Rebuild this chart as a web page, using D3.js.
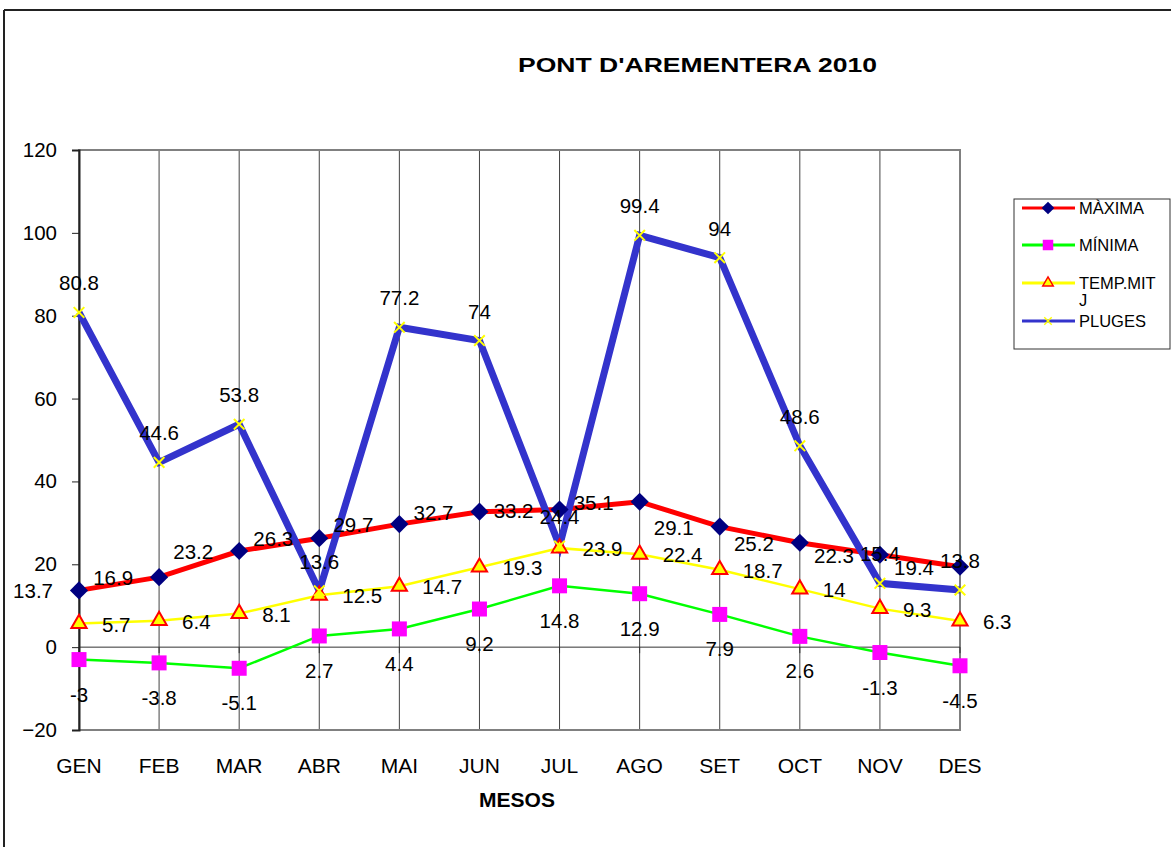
<!DOCTYPE html>
<html>
<head>
<meta charset="utf-8">
<script src="https://cdn.jsdelivr.net/npm/d3@7"></script>
<style>
  body { margin: 0; background: #fff; }
  text { font-family: "Liberation Sans", Arial, sans-serif; }
</style>
</head>
<body>
<div id="chart"></div>
<script>
const months = ["GEN", "FEB", "MAR", "ABR", "MAI", "JUN", "JUL", "AGO", "SET", "OCT", "NOV", "DES"];
const maxima = [13.7, 16.9, 23.2, 26.3, 29.7, 32.7, 33.2, 35.1, 29.1, 25.2, 22.3, 19.4];
const minima = [-3, -3.8, -5.1, 2.7, 4.4, 9.2, 14.8, 12.9, 7.9, 2.6, -1.3, -4.5];
const tempMitj = [5.7, 6.4, 8.1, 12.5, 14.7, 19.3, 23.9, 22.4, 18.7, 14, 9.3, 6.3];
const pluges = [80.8, 44.6, 53.8, 13.6, 77.2, 74, 24.4, 99.4, 94, 48.6, 15.4, 13.8];
const yTicks = [-20, 0, 20, 40, 60, 80, 100, 120];

const W = 1171, H = 847;
const pLeft = 79, pRight = 960, pTop = 150, pBottom = 730;
const fs = 21;

const svg = d3.select("#chart").append("svg")
    .attr("width", W)
    .attr("height", H);

// outer frame (only top and left edges are visible)
svg.append("line").attr("x1", 4).attr("x2", W).attr("y1", 10).attr("y2", 10)
    .attr("stroke", "#222").attr("stroke-width", 2);
svg.append("line").attr("x1", 4).attr("x2", 4).attr("y1", 10).attr("y2", H)
    .attr("stroke", "#222").attr("stroke-width", 2);

const x = d3.scalePoint().domain(months).range([pLeft, pRight]);
const y = d3.scaleLinear().domain([-20, 120]).range([pBottom, pTop]);

// vertical gridlines
svg.append("g")
    .selectAll("line")
    .data(months.slice(1, -1))
    .enter()
    .append("line")
    .attr("x1", d => x(d)).attr("x2", d => x(d))
    .attr("y1", pTop).attr("y2", pBottom)
    .attr("stroke", "#444")
    .attr("stroke-width", 1);

// plot border
svg.append("rect")
    .attr("x", pLeft).attr("y", pTop)
    .attr("width", pRight - pLeft).attr("height", pBottom - pTop)
    .attr("fill", "none")
    .attr("stroke", "#808080")
    .attr("stroke-width", 2);

// zero line (category axis)
svg.append("line")
    .attr("x1", pLeft).attr("x2", pRight)
    .attr("y1", y(0)).attr("y2", y(0))
    .attr("stroke", "#333").attr("stroke-width", 1);
svg.append("g")
    .selectAll("line")
    .data(months)
    .enter()
    .append("line")
    .attr("x1", d => x(d)).attr("x2", d => x(d))
    .attr("y1", y(0)).attr("y2", y(0) + 6)
    .attr("stroke", "#333");

// y axis
const yAxis = svg.append("g")
    .attr("transform", "translate(" + pLeft + ",0)")
    .call(d3.axisLeft(y).tickValues(yTicks).tickSize(7).tickPadding(15));
yAxis.select(".domain").attr("stroke", "#222").attr("stroke-width", 2);
yAxis.selectAll(".tick line").attr("stroke", "#222");
yAxis.selectAll("text")
    .attr("font-size", 20.5)
    .attr("font-family", "Liberation Sans, Arial, sans-serif")
    .attr("fill", "#000");

// month labels
svg.append("g")
    .selectAll("text")
    .data(months)
    .enter()
    .append("text")
    .attr("x", d => x(d))
    .attr("y", 773)
    .attr("text-anchor", "middle")
    .attr("font-size", fs)
    .text(d => d);

svg.append("text")
    .attr("x", 517).attr("y", 807)
    .attr("text-anchor", "middle")
    .attr("font-size", 21)
    .attr("font-weight", "bold")
    .text("MESOS");

svg.append("text")
    .attr("x", 518).attr("y", 72)
    .attr("font-size", 21)
    .attr("font-weight", "bold")
    .attr("textLength", 359)
    .attr("lengthAdjust", "spacingAndGlyphs")
    .text("PONT D'AREMENTERA 2010");

const line = d3.line()
    .x((d, i) => x(months[i]))
    .y(d => y(d));

const series = [
    { name: "MÀXIMA", values: maxima, color: "#ff0000", width: 5 },
    { name: "MÍNIMA", values: minima, color: "#00ff00", width: 2.5 },
    { name: "TEMP.MITJ", values: tempMitj, color: "#ffff00", width: 2.5 },
    { name: "PLUGES", values: pluges, color: "#3333cc", width: 7 }
];

const markers = {
    "MÀXIMA": g => g.append("path")
        .attr("d", d3.symbol(d3.symbolSquare, 165)())
        .attr("transform", "rotate(45)")
        .attr("fill", "#000080"),
    "MÍNIMA": g => g.append("path")
        .attr("d", d3.symbol(d3.symbolSquare, 225)())
        .attr("fill", "#ff00ff"),
    "TEMP.MITJ": g => g.append("path")
        .attr("d", d3.symbol(d3.symbolTriangle, 100)())
        .attr("fill", "#ffff00")
        .attr("stroke", "#ff0000")
        .attr("stroke-width", 2),
    "PLUGES": g => g.append("path")
        .attr("d", d3.symbol(d3.symbolX, 75)())
        .attr("fill", "none")
        .attr("stroke", "#ffff00")
        .attr("stroke-width", 2)
};

// lines
series.forEach(s => {
    svg.append("path")
        .datum(s.values)
        .attr("d", line)
        .attr("fill", "none")
        .attr("stroke", s.color)
        .attr("stroke-width", s.width)
        .attr("stroke-linejoin", "miter");
});

// markers
series.forEach(s => {
    svg.append("g")
        .selectAll("g")
        .data(s.values)
        .enter()
        .append("g")
        .attr("transform", (d, i) => "translate(" + x(months[i]) + "," + y(d) + ")")
        .each(function () { markers[s.name](d3.select(this)); });
});

// data labels
const labelPos = {
    "MÀXIMA": { dx: -26, dy: 8, anchor: "end" },
    "MÍNIMA": { dx: 0, dy: 42, anchor: "middle" },
    "TEMP.MITJ": { dx: 23, dy: 8, anchor: "start" },
    "PLUGES": { dx: 0, dy: -22, anchor: "middle" }
};
series.forEach(s => {
    const p = labelPos[s.name];
    svg.append("g")
        .selectAll("text")
        .data(s.values)
        .enter()
        .append("text")
        .attr("x", (d, i) => x(months[i]) + p.dx)
        .attr("y", d => y(d) + p.dy)
        .attr("text-anchor", p.anchor)
        .attr("font-size", 20.5)
        .text(d => d);
});

// legend
const lg = svg.append("g").attr("transform", "translate(1014,199)");
lg.append("rect")
    .attr("width", 156).attr("height", 150)
    .attr("fill", "#fff")
    .attr("stroke", "#333")
    .attr("stroke-width", 1);
const rowY = [9, 46, 84, 122];
series.forEach((s, i) => {
    const row = lg.append("g").attr("transform", "translate(0," + rowY[i] + ")");
    row.append("line")
        .attr("x1", 8).attr("x2", 61)
        .attr("stroke", s.color)
        .attr("stroke-width", 3);
    const m = row.append("g").attr("transform", "translate(34,0) scale(0.7)");
    markers[s.name](m);
    const t = row.append("text")
        .attr("x", 65)
        .attr("y", 6)
        .attr("font-size", 16.5);
    if (s.name === "TEMP.MITJ") {
        t.append("tspan").attr("x", 65).text("TEMP.MIT");
        t.append("tspan").attr("x", 65).attr("dy", 17).text("J");
    } else {
        t.text(s.name);
    }
});
</script>
</body>
</html>
